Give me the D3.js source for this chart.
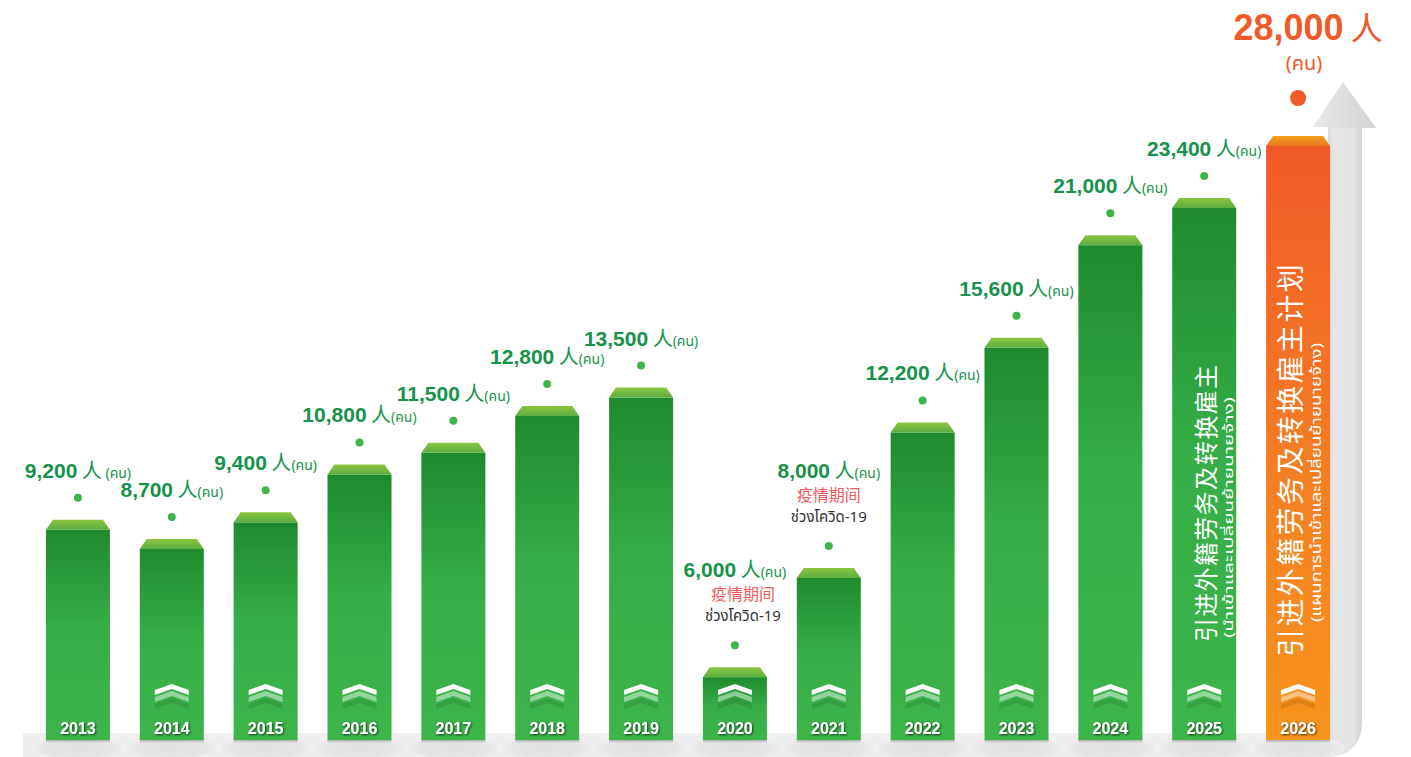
<!DOCTYPE html>
<html><head><meta charset="utf-8">
<script src="https://cdn.jsdelivr.net/npm/d3@7/dist/d3.min.js"></script>
<style>body{margin:0;background:#fff;}svg{display:block;}</style>
</head><body>
<svg id="chart" width="1411" height="757"></svg>
<script>
// ---------- data ----------
const years = ["2013","2014","2015","2016","2017","2018","2019","2020","2021","2022","2023","2024","2025","2026"];
const values = [9200,8700,9400,10800,11500,12800,13500,6000,8000,12200,15600,21000,23400,28000];
const covidYears = ["2020","2021"];
const covidNoteCN = "疫情期间";
const covidNoteTH = "ช่วงโควิด-19";
const unitCN = "人";
const unitTH = "(คน)";
const noChevronYears = ["2013"];
const planYear = "2026";
const vertTextYears = ["2025","2026"];
const vertTextCN = ["引进外籍劳务及转换雇主","引进外籍劳务及转换雇主计划"];
const vertTextTH = ["(นำเข้าและเปลี่ยนย้ายนายจ้าง)","(แผนการนำเข้าและเปลี่ยนย้ายนายจ้าง)"];

const data = years.map((y,i)=>({year:y, value:values[i]}));

// ---------- layout ----------
const svg = d3.select("#chart");
const baseY = 740;
const x = d3.scaleBand().domain(years).range([31,1345]).paddingInner(0.318).paddingOuter(0.159);
const y = d3.scaleLog().domain([5000,28000]).range([baseY,146]);
const bw = x.bandwidth();
const bevelH = 10, bevelInset = 7;
const fmt = d3.format(",");
const numFont = "'Liberation Sans', Arial, Helvetica, sans-serif";
const cjkFont = "'Noto Sans CJK SC', 'Noto Sans', sans-serif";
const thaiFont = "'Noto Sans Thai', 'Noto Sans', 'DejaVu Sans', sans-serif";

const defs = svg.append("defs");
function lg(id, stops, x2=0, y2=1){
  const g = defs.append("linearGradient").attr("id",id).attr("x1",0).attr("y1",0).attr("x2",x2).attr("y2",y2);
  stops.forEach(s=>g.append("stop").attr("offset",s[0]).attr("stop-color",s[1]).attr("stop-opacity", s[2]==null?1:s[2]));
}
lg("gBody",[[0,"#1e8a2d"],[0.45,"#36ad47"],[1,"#3db54a"]]);
lg("gBevel",[[0,"#8dc63f"],[1,"#5aae41"]]);
lg("oBody",[[0,"#f15a29"],[0.55,"#f47f23"],[1,"#f7941d"]]);
lg("oBevel",[[0,"#f7a21d"],[1,"#e8731f"]]);
lg("shaft",[[0,"#d2d2d4"],[0.25,"#e6e6e6"],[0.8,"#e2e2e2"],[1,"#d2d2d2"]],1,0);
lg("head",[[0,"#e8e8e8"],[1,"#d2d2d2"]],1,0);
lg("bshadow",[[0,"#888",0.8],[1,"#888",0]]);
const rg = defs.append("radialGradient").attr("id","ell");
rg.append("stop").attr("offset",0).attr("stop-color","#e0e0e0");
rg.append("stop").attr("offset",0.75).attr("stop-color","#e5e5e5");
rg.append("stop").attr("offset",1).attr("stop-color","#eeeeee");
const f = defs.append("filter").attr("id","ts").attr("x","-20%").attr("y","-40%").attr("width","140%").attr("height","180%");
f.append("feDropShadow").attr("dx",1).attr("dy",1).attr("stdDeviation",1).attr("flood-color","#000").attr("flood-opacity",0.7);

// ---------- floor + arrow ----------
const shaftL = 1328, shaftR = 1362, floorTop = 733, arrowBase = 127;
svg.append("path")
  .attr("d",`M23,${floorTop} H${shaftL} V757 H23 Z`).attr("fill","#efefef");
svg.append("path")
  .attr("d",`M${shaftL},${arrowBase} H${shaftR} V722 Q${shaftR},757 ${shaftL-4},757 H${shaftL} Z`)
  .attr("fill","url(#shaft)");
svg.append("path")
  .attr("d",`M1343,82 L1376,${arrowBase+1} L1313,${arrowBase} Z`).attr("fill","url(#head)");

svg.selectAll("ellipse.floor").data(data).join("ellipse")
  .attr("cx",d=>x(d.year)+bw/2).attr("cy",748).attr("rx",47).attr("ry",12)
  .attr("fill","url(#ell)");

// ---------- bars ----------
const isPlan = d=>d.year===planYear;
const bars = svg.selectAll("g.bar").data(data).join("g").attr("class","bar");
bars.append("rect")
  .attr("x",d=>x(d.year)).attr("width",bw).attr("y",baseY-1).attr("height",4)
  .attr("fill","url(#bshadow)");
bars.append("rect")
  .attr("x",d=>x(d.year)).attr("width",bw)
  .attr("y",d=>y(d.value)).attr("height",d=>baseY-y(d.value))
  .attr("fill",d=>isPlan(d)?"url(#oBody)":"url(#gBody)");
bars.append("path")
  .attr("d",d=>{const x0=x(d.year), t=y(d.value);
    return `M${x0},${t} L${x0+bevelInset},${t-bevelH} L${x0+bw-bevelInset},${t-bevelH} L${x0+bw},${t} Z`;})
  .attr("fill",d=>isPlan(d)?"url(#oBevel)":"url(#gBevel)");

// chevrons
const chev = (cx,top)=>`M${cx},${top} L${cx+17},${top+6} L${cx+17},${top+11} L${cx},${top+5} L${cx-17},${top+11} L${cx-17},${top+6} Z`;
const chevData = data.filter(d=>!noChevronYears.includes(d.year));
[[684,"#fff",1],[691,"#fff",0.45],[698,"#000",0.1]].forEach(([top,col,op])=>{
  svg.selectAll(null).data(chevData).join("path")
    .attr("d",d=>chev(x(d.year)+bw/2, top))
    .attr("fill",col).attr("fill-opacity",op);
});

// year labels
svg.selectAll("text.year").data(data).join("text").attr("class","year")
  .attr("x",d=>x(d.year)+bw/2).attr("y",734)
  .attr("text-anchor","middle").attr("font-family",numFont).attr("font-weight","bold")
  .attr("font-size",16).attr("fill","#fff").attr("filter","url(#ts)")
  .text(d=>d.year);

// ---------- dots + value labels ----------
const dotY = d=> isPlan(d) ? y(d.value)-bevelH-38 : y(d.value)-bevelH-22;
svg.selectAll("circle.dot").data(data).join("circle")
  .attr("cx",d=>x(d.year)+bw/2).attr("cy",dotY)
  .attr("r",d=>isPlan(d)?8:4)
  .attr("fill",d=>isPlan(d)?"#f15a29":"#3db54a");

const green = "#17924b";
const labData = data.filter(d=>!isPlan(d));
const lab = svg.selectAll("text.val").data(labData).join("text").attr("class","val")
  .attr("x",d=>x(d.year)+bw/2)
  .attr("y",d=>dotY(d) - (covidYears.includes(d.year)?68:20))
  .attr("text-anchor","middle").attr("fill",green);
lab.append("tspan").attr("font-family",numFont).attr("font-weight","bold").attr("font-size",21).text(d=>fmt(d.value));
lab.append("tspan").attr("font-family",cjkFont).attr("font-size",20).text(" "+unitCN);
lab.append("tspan").attr("font-family",thaiFont).attr("font-size",14).text(d=>(d.year==="2013"?" ":"")+unitTH);

const cov = data.filter(d=>covidYears.includes(d.year));
svg.selectAll("text.covcn").data(cov).join("text")
  .attr("x",d=>x(d.year)+bw/2+(d.year==="2020"?8:0)).attr("y",d=>dotY(d)-45)
  .attr("text-anchor","middle").attr("font-family",cjkFont).attr("font-size",16).attr("fill","#ef5b5b")
  .text(covidNoteCN);
svg.selectAll("text.covth").data(cov).join("text")
  .attr("x",d=>x(d.year)+bw/2+(d.year==="2020"?8:0)).attr("y",d=>dotY(d)-24)
  .attr("text-anchor","middle").attr("font-family",thaiFont).attr("font-size",15).attr("fill","#333")
  .text(covidNoteTH);

// plan label
const plan = data.find(isPlan);
const pt = svg.append("text").attr("x",x(plan.year)+bw/2+10).attr("y",dotY(plan)-58)
  .attr("text-anchor","middle").attr("fill","#f05a28");
pt.append("tspan").attr("font-family",numFont).attr("font-weight","bold").attr("font-size",36).text(fmt(plan.value));
pt.append("tspan").attr("font-family",cjkFont).attr("font-size",32).text(" "+unitCN);
svg.append("text").attr("x",x(plan.year)+bw/2+6).attr("y",dotY(plan)-28)
  .attr("text-anchor","middle").attr("fill","#f05a28").attr("font-family",thaiFont).attr("font-size",20)
  .text(unitTH);

// ---------- vertical texts ----------
vertTextYears.forEach((yr,i)=>{
  const cx = x(yr);
  const big = i===1;
  svg.append("text")
    .attr("transform",`translate(${cx + (big?23:32)},${big?657:642}) rotate(-90)`)
    .attr("dominant-baseline","central")
    .attr("font-family",cjkFont).attr("font-size",big?28:24).attr("fill","#fff")
    .attr("letter-spacing",big?2.4:1.3)
    .text(vertTextCN[i]);
  svg.append("text")
    .attr("transform",`translate(${cx + (big?50:57)},${big?622:638}) rotate(-90)`)
    .attr("dominant-baseline","central")
    .attr("font-family",thaiFont).attr("font-size",big?14:13).attr("fill","#fff")
    .attr("textLength",big?279:241).attr("lengthAdjust","spacingAndGlyphs")
    .text(vertTextTH[i]);
});
</script>
</body></html>
